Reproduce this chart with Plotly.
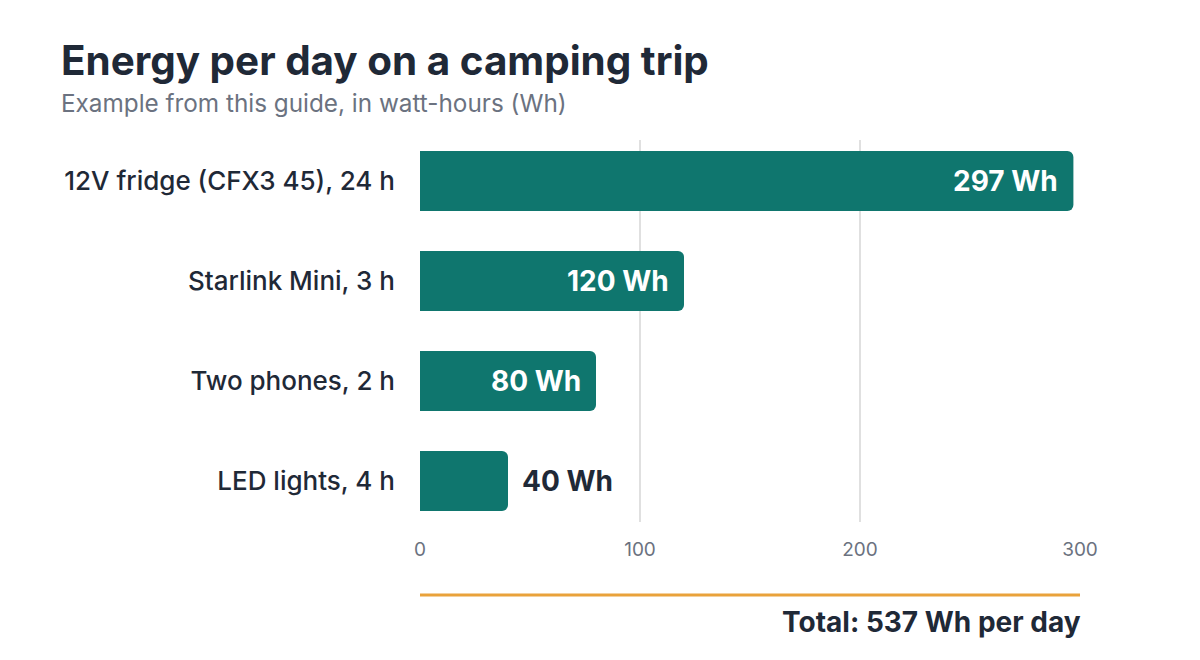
import plotly.graph_objects as go

# data
devices = ["12V fridge (CFX3 45), 24 h", "Starlink Mini, 3 h", "Two phones, 2 h", "LED lights, 4 h"]
energy_wh = [297, 120, 80, 40]
label_inside = [True, True, True, False]
total_wh = 537
x_ticks = [0, 100, 200, 300]

TEAL = "#0f766e"
DARK = "#1f2937"
GRAY = "#6b7280"
GOLD = "#e9a23b"
FONT = "Inter"

fig = go.Figure(
    go.Bar(
        x=energy_wh,
        y=devices,
        orientation="h",
        marker=dict(color=TEAL, line=dict(width=0)),
        width=0.6,
        hoverinfo="skip",
    )
)

# value labels, white inside the long bars, dark outside the short one
for name, val, inside in zip(devices, energy_wh, label_inside):
    fig.add_annotation(
        x=val,
        y=name,
        xref="x",
        yref="y",
        text=f"<b>{val} Wh</b>",
        showarrow=False,
        xanchor="right" if inside else "left",
        xshift=-13 if inside else 12,
        font=dict(family=FONT, size=28, color="white" if inside else DARK),
    )

# title + subtitle (paper coords relative to the plot area)
fig.add_annotation(
    xref="paper", yref="paper", x=-0.547, y=1.209,
    xanchor="left", yanchor="middle", showarrow=False,
    text="<b>Energy per day on a camping trip</b>",
    font=dict(family=FONT, size=40.4, color=DARK),
)
fig.add_annotation(
    xref="paper", yref="paper", x=-0.547, y=1.097,
    xanchor="left", yanchor="middle", showarrow=False,
    text="Example from this guide, in watt-hours (Wh)",
    font=dict(family=FONT, size=24.3, color=GRAY),
)

# total line and text
fig.add_shape(
    type="line",
    xref="x",
    yref="paper",
    x0=0,
    x1=300,
    y0=-0.191,
    y1=-0.191,
    line=dict(color=GOLD, width=3),
)
fig.add_annotation(
    xref="paper",
    yref="paper",
    x=1,
    y=-0.262,
    xanchor="right",
    yanchor="middle",
    xshift=3,
    text=f"<b>Total: {total_wh} Wh per day</b>",
    showarrow=False,
    font=dict(family=FONT, size=28, color=DARK),
)

# the page body adds an 8px offset, so the margins are shifted to compensate
fig.update_layout(
    width=1200,
    height=660,
    paper_bgcolor="white",
    plot_bgcolor="white",
    margin=dict(l=412, r=128, t=132, b=146),
    barcornerradius=6,
    showlegend=False,
    font=dict(family=FONT, color=DARK),
    xaxis=dict(
        range=[0, 300],
        tickvals=x_ticks,
        showgrid=True,
        gridcolor="#e0e0e0",
        gridwidth=1.5,
        zeroline=False,
        showline=False,
        ticks="",
        tickfont=dict(family=FONT, size=19, color=GRAY),
        ticklabelstandoff=14,
        fixedrange=True,
    ),
    yaxis=dict(
        categoryorder="array",
        categoryarray=devices,
        range=[3.41, -0.41],
        showgrid=False,
        zeroline=False,
        showline=False,
        ticks="",
        tickfont=dict(family=FONT, size=26, color=DARK, weight=500),
        ticklabelstandoff=24,
        fixedrange=True,
    ),
)

fig.write_html("out.html")
